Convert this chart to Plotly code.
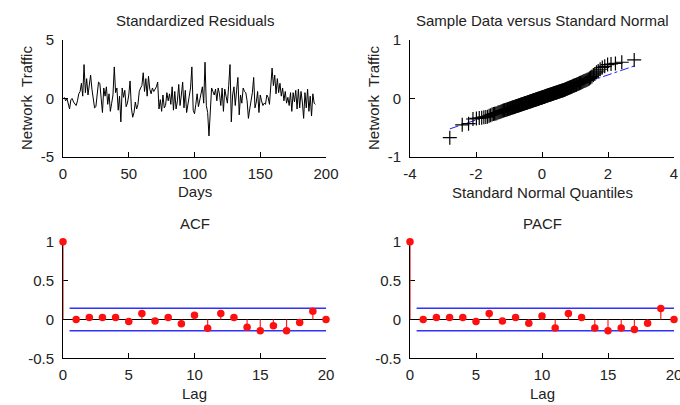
import numpy as np
import plotly.graph_objects as go
from statistics import NormalDist

# ---------------- data ----------------
# standardized residuals, days 1..192
residuals = [
    0.1, -0.2, 0.0, -0.4, -0.9, -0.1, 0.0, -0.3, -0.5, -0.6,
    -0.2, 0.4, 0.6, 1.3, 0.2, 2.9, 0.5, 1.7, 0.3, 1.2,
    2.0, 0.8, -0.3, -0.8, -0.7, 0.2, 1.4, 1.3, -0.2, -1.2,
    0.9, 0.2, 1.0, -0.5, 0.4, -1.1, -0.4, 0.3, 2.7, 0.5,
    0.9, -1.0, 0.2, -2.0, 0.9, 0.1, 0.7, -0.7, -0.4, 0.3,
    1.5, -0.8, -1.6, -1.2, -0.3, -0.9, -0.5, 0.6, 0.9, 1.1,
    2.2, 0.6, 1.7, 0.2, 1.9, 0.8, 0.4, 0.9, 0.6, 0.8,
    1.0, 1.4, -0.9, -0.1, -1.1, 0.3, -0.8, -0.6, 0.5, -0.2,
    0.4, -0.5, 1.0, -1.0, 0.6, -0.9, -0.2, 1.2, -0.6, 0.3,
    1.4, -0.8, 0.7, -1.2, -0.3, 0.2, 0.9, 2.7, -1.0, -1.3,
    -0.5, 0.4, -0.7, -0.1, 0.5, 1.0, -0.4, 3.1, -0.6, -1.2,
    -3.2, -0.5, 0.9, 0.6, 0.3, 0.8, -0.2, 0.9, 0.4, -0.6,
    0.9, -1.1, 0.8, 0.2, -0.4, 1.1, 2.9, -2.0, 0.3, 1.0,
    -0.6, 0.7, 1.8, -1.4, 0.3, -0.4, 0.9, 0.6, 0.5, -0.2,
    -1.7, -0.9, -0.1, 0.5, 1.8, -0.8, -0.3, 0.6, -1.2, 0.3,
    -0.2, -0.6, -0.4, -0.5, 0.3, 0.1, -0.5, 0.8, 2.6, 1.1,
    2.0, 0.4, 1.7, 0.5, 1.3, 0.2, 0.9, -0.2, 0.6, -0.4,
    0.1, -0.6, 0.5, -1.1, 0.5, -0.3, 0.7, -0.9, 0.8, -0.8,
    0.6, -0.3, -1.7, 0.5, -0.8, 0.8, -1.1, 0.2, -1.5, 0.4,
    -0.4, -0.5,
]

# raw residuals (network traffic), sorted, for the normal probability plot
qq_sample = [
    -0.67, -0.45, -0.43, -0.35, -0.34, -0.335, -0.33, -0.32, -0.315, -0.31,
    -0.295, -0.285, -0.275, -0.265, -0.26, -0.255, -0.25, -0.24, -0.235, -0.23,
    -0.222, -0.217, -0.211, -0.206, -0.202, -0.197, -0.192, -0.188, -0.183, -0.179,
    -0.175, -0.171, -0.167, -0.163, -0.159, -0.155, -0.151, -0.148, -0.144, -0.140,
    -0.137, -0.134, -0.130, -0.127, -0.123, -0.120, -0.117, -0.114, -0.111, -0.107,
    -0.104, -0.101, -0.098, -0.095, -0.092, -0.089, -0.086, -0.083, -0.080, -0.078,
    -0.075, -0.072, -0.069, -0.067, -0.064, -0.061, -0.058, -0.056, -0.053, -0.050,
    -0.048, -0.045, -0.042, -0.040, -0.037, -0.034, -0.032, -0.029, -0.027, -0.024,
    -0.022, -0.019, -0.016, -0.014, -0.011, -0.009, -0.006, -0.004, -0.001, 0.002,
    0.004, 0.007, 0.009, 0.012, 0.014, 0.017, 0.019, 0.022, 0.024, 0.027,
    0.029, 0.032, 0.034, 0.037, 0.040, 0.042, 0.045, 0.047, 0.050, 0.052,
    0.055, 0.058, 0.060, 0.063, 0.065, 0.068, 0.070, 0.073, 0.076, 0.078,
    0.081, 0.084, 0.086, 0.089, 0.092, 0.094, 0.097, 0.100, 0.103, 0.105,
    0.108, 0.111, 0.114, 0.116, 0.119, 0.122, 0.125, 0.128, 0.131, 0.134,
    0.137, 0.140, 0.143, 0.147, 0.150, 0.153, 0.157, 0.161, 0.166, 0.170,
    0.175, 0.179, 0.183, 0.188, 0.193, 0.197, 0.202, 0.207, 0.212, 0.217,
    0.222, 0.227, 0.232, 0.237, 0.243, 0.248, 0.255, 0.262, 0.268, 0.275,
    0.283, 0.290, 0.298, 0.305, 0.313, 0.322, 0.33, 0.34, 0.36, 0.375,
    0.40, 0.42, 0.45, 0.47, 0.50, 0.53, 0.55, 0.58, 0.59, 0.60,
    0.62, 0.66,
]

lags = list(range(0, 21))
acf_values = [1.0, 0.0, 0.025, 0.025, 0.025, -0.025, 0.075, -0.02, 0.025, -0.055,
              0.055, -0.115, 0.075, 0.025, -0.10, -0.145, -0.08, -0.145, -0.04, 0.105, 0.0]
pacf_values = [1.0, 0.0, 0.025, 0.025, 0.025, -0.025, 0.075, -0.02, 0.025, -0.05,
               0.045, -0.11, 0.075, 0.025, -0.11, -0.145, -0.11, -0.13, -0.05, 0.14, 0.0]
conf_bound = 0.144
bound_start_lag = 0.5

titles = ["Standardized Residuals", "Sample Data versus Standard Normal", "ACF", "PACF"]

# ---------------- derived ----------------
n = len(qq_sample)
nd = NormalDist()
qq_theory = [nd.inv_cdf((i + 0.5) / n) for i in range(n)]
sorted_sample = sorted(qq_sample)
q1, q3 = np.percentile(sorted_sample, [25, 75])
t1, t3 = nd.inv_cdf(0.25), nd.inv_cdf(0.75)
slope = (q3 - q1) / (t3 - t1)
icpt = q1 - slope * t1
line_x = [qq_theory[0], qq_theory[-1]]
line_y = [icpt + slope * v for v in line_x]

FONT = "Liberation Sans, Arial, sans-serif"
FS = 15
TXT = "#222222"

fig = go.Figure()

# 1: residual series
fig.add_trace(go.Scatter(x=list(range(1, len(residuals) + 1)), y=residuals, mode="lines",
                         line=dict(color="black", width=1), xaxis="x", yaxis="y",
                         showlegend=False, hoverinfo="skip"))

# 2: QQ plot
fig.add_trace(go.Scatter(x=line_x, y=line_y, mode="lines",
                         line=dict(color="#2020ff", width=1, dash="dashdot"),
                         xaxis="x2", yaxis="y2", showlegend=False))
fig.add_trace(go.Scatter(x=qq_theory, y=sorted_sample, mode="markers", cliponaxis=False,
                         marker=dict(symbol="cross-thin", size=10, color="black",
                                     line=dict(color="black", width=1.2)),
                         xaxis="x2", yaxis="y2", showlegend=False))


def stem(values, xa, ya):
    sx, sy = [], []
    for lg, v in zip(lags, values):
        sx += [lg, lg, None]
        sy += [0, v, None]
    fig.add_trace(go.Scatter(x=[bound_start_lag, lags[-1]], y=[conf_bound, conf_bound], mode="lines",
                             line=dict(color="#3030ff", width=1.5), xaxis=xa, yaxis=ya, showlegend=False))
    fig.add_trace(go.Scatter(x=[bound_start_lag, lags[-1]], y=[-conf_bound, -conf_bound], mode="lines",
                             line=dict(color="#3030ff", width=1.5), xaxis=xa, yaxis=ya, showlegend=False))
    fig.add_trace(go.Scatter(x=sx, y=sy, mode="lines", line=dict(color="#ff2020", width=1.2),
                             cliponaxis=False, xaxis=xa, yaxis=ya, showlegend=False))
    fig.add_trace(go.Scatter(x=lags, y=values, mode="markers", cliponaxis=False,
                             marker=dict(symbol="circle", size=7.5, color="#ff1010"),
                             xaxis=xa, yaxis=ya, showlegend=False))


stem(acf_values, "x3", "y3")
stem(pacf_values, "x4", "y4")

W, H = 680, 405
col1 = [63 / W, 326 / W]
col2 = [410 / W, 674 / W]
row1 = [1 - 157 / H, 1 - 40 / H]
row2 = [1 - 358.3 / H, 1 - 241.7 / H]


def ax(domain, rng, tickvals, anchor, zeroline=False, standoff=0):
    return dict(domain=domain, range=rng, tickvals=tickvals,
                ticktext=[f"{v:g}" for v in tickvals], anchor=anchor,
                showline=True, linecolor="black", linewidth=1, mirror=False,
                ticks="inside", ticklen=5, tickcolor="black", tickwidth=1,
                showgrid=False, zeroline=zeroline, zerolinecolor="black", zerolinewidth=1,
                automargin=False, layer="below traces", ticklabelstandoff=standoff,
                ticklabeloverflow="allow",
                tickfont=dict(family=FONT, size=FS, color=TXT), fixedrange=True)


layout = dict(
    width=W, height=H, margin=dict(l=0, r=0, t=0, b=0, autoexpand=False),
    paper_bgcolor="white", plot_bgcolor="white",
    font=dict(family=FONT, size=FS, color=TXT),
    xaxis=ax(col1, [0, 200], [0, 50, 100, 150, 200], "y", standoff=3),
    yaxis=ax(row1, [-5, 5], [-5, 0, 5], "x", standoff=5),
    xaxis2=ax(col2, [-4, 4], [-4, -2, 0, 2, 4], "y2", standoff=3),
    yaxis2=ax(row1, [-1, 1], [-1, 0, 1], "x2", standoff=5),
    xaxis3=ax(col1, [0, 20], [0, 5, 10, 15, 20], "y3", standoff=3),
    yaxis3=ax(row2, [-0.5, 1], [-0.5, 0, 0.5, 1], "x3", zeroline=True, standoff=5),
    xaxis4=ax(col2, [0, 20], [0, 5, 10, 15, 20], "y4", standoff=3),
    yaxis4=ax(row2, [-0.5, 1], [-0.5, 0, 0.5, 1], "x4", zeroline=True, standoff=5),
)
fig.update_layout(**layout)

ann = []
def text(t, x, y, angle=0):
    ann.append(dict(text=t, x=x, y=y, xref="paper", yref="paper", showarrow=False,
                    xanchor="center", yanchor="middle", textangle=angle,
                    font=dict(family=FONT, size=FS, color=TXT)))

text(titles[0], sum(col1) / 2, 1 - 20 / H)
text(titles[1], sum(col2) / 2, 1 - 20 / H)
text(titles[2], sum(col1) / 2, 1 - 223 / H)
text(titles[3], sum(col2) / 2, 1 - 223 / H)
text("Days", sum(col1) / 2, 1 - 191 / H)
text("Standard Normal Quantiles", sum(col2) / 2, 1 - 192 / H)
text("Lag", sum(col1) / 2, 1 - 393 / H)
text("Lag", sum(col2) / 2, 1 - 393 / H)
text("Network  Traffic", 26 / W, 1 - 98 / H, -90)
text("Network  Traffic", 373 / W, 1 - 98 / H, -90)
fig.update_layout(annotations=ann)

fig.write_html("out.html", config={"displayModeBar": False, "staticPlot": True},
               post_script="document.body.style.margin='0';document.body.style.padding='0';"
                           "document.documentElement.style.overflow='hidden';")
